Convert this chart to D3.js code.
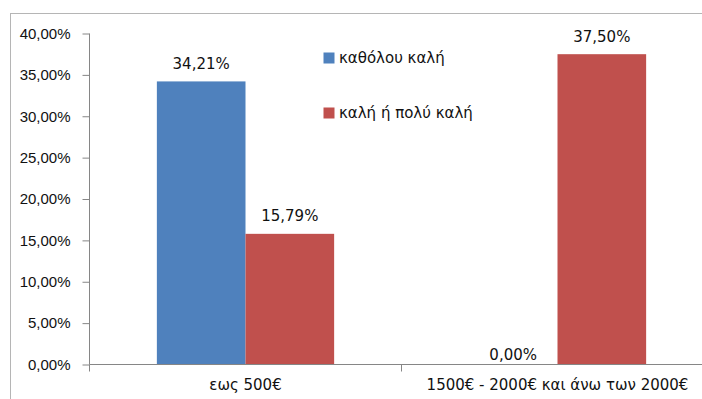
<!DOCTYPE html>
<html>
<head>
<meta charset="utf-8">
<script src="https://cdn.jsdelivr.net/npm/d3@7"></script>
<style>
  html, body { margin: 0; padding: 0; background: #fff; }
  svg { display: block; font-family: "DejaVu Sans", Verdana, sans-serif; }
</style>
</head>
<body>
<svg id="chart" width="702" height="399"></svg>
<script>
// Income groups on the x axis
const categories = ["εως 500€", "1500€ - 2000€ και άνω των 2000€"];
// Two rating series (shares, 0–1)
const seriesNames = ["καθόλου καλή", "καλή ή πολύ καλή"];
const seriesColors = ["#4F81BD", "#C0504D"];
const valuesNotGood = [0.3421, 0.0000];
const valuesGood = [0.1579, 0.3750];
// Y axis ticks
const yTicks = [0, 0.05, 0.10, 0.15, 0.20, 0.25, 0.30, 0.35, 0.40];

const seriesValues = [valuesNotGood, valuesGood];
const rows = categories.map((c, i) => ({
  category: c,
  values: seriesNames.map((s, j) => ({ series: s, value: seriesValues[j][i], color: seriesColors[j] }))
}));

const locale = d3.formatLocale({ decimal: ",", thousands: ".", grouping: [3], currency: ["", "€"] });
const pct = locale.format(".2%");

const svg = d3.select("#chart");
const axisColor = "#868686";
const textColor = "#111";
const fontSize = 15;

// Outer chart frame
svg.append("rect")
  .attr("x", 10.5).attr("y", 13.5)
  .attr("width", 800).attr("height", 500)
  .attr("fill", "#fff").attr("stroke", "#b5b5b5").attr("stroke-width", 1);

const plotLeft = 89.5, plotRight = 713.5, plotTop = 33.5, plotBottom = 364.5;

const y = d3.scaleLinear().domain([0, 0.40]).range([plotBottom, plotTop]);
const x0 = d3.scaleBand().domain(categories).range([plotLeft, plotRight]).paddingInner(0).paddingOuter(0);
const x1 = d3.scaleBand().domain(seriesNames).range([0, x0.bandwidth()]).paddingInner(0).paddingOuter(0.76);

// Bars
const groups = svg.append("g").selectAll("g").data(rows).join("g")
  .attr("transform", d => `translate(${x0(d.category)},0)`);

groups.selectAll("rect").data(d => d.values).join("rect")
  .attr("x", d => x1(d.series))
  .attr("y", d => y(d.value))
  .attr("width", x1.bandwidth())
  .attr("height", d => y(0) - y(d.value))
  .attr("fill", d => d.color);

// Value labels above bars
groups.selectAll("text").data(d => d.values).join("text")
  .attr("x", d => x1(d.series) + x1.bandwidth() / 2)
  .attr("y", d => d.value > 0 ? y(d.value) - 12.5 : y(0) - 5)
  .attr("text-anchor", "middle")
  .attr("font-size", fontSize)
  .attr("fill", textColor)
  .text(d => pct(d.value));

// Y axis
const yAxis = d3.axisLeft(y).tickValues(yTicks).tickSize(7).tickPadding(12).tickFormat(pct);
const gy = svg.append("g").attr("transform", `translate(${plotLeft},0)`).call(yAxis);
gy.select(".domain").attr("stroke", axisColor).attr("d", `M0,${plotTop}V${plotBottom}`);
gy.selectAll(".tick line").attr("stroke", axisColor);
gy.selectAll(".tick text").attr("font-size", fontSize).attr("fill", textColor).attr("font-family", null);

// X axis: ticks at category boundaries
const gx = svg.append("g").attr("transform", `translate(0,${plotBottom})`);
gx.append("line").attr("x1", plotLeft).attr("x2", plotRight).attr("stroke", axisColor);
const boundaries = categories.map(c => x0(c)).concat([x0(categories[categories.length - 1]) + x0.bandwidth()]);
gx.selectAll("line.tick").data(boundaries).join("line")
  .attr("class", "tick")
  .attr("x1", d => d).attr("x2", d => d)
  .attr("y1", 0).attr("y2", 7)
  .attr("stroke", axisColor);
gx.selectAll("text").data(categories).join("text")
  .attr("x", d => x0(d) + x0.bandwidth() / 2)
  .attr("y", 25)
  .attr("text-anchor", "middle")
  .attr("font-size", fontSize)
  .attr("fill", textColor)
  .text(d => d);

// Legend
const legend = svg.append("g").attr("transform", "translate(323.5,52.5)");
const items = legend.selectAll("g").data(seriesNames).join("g")
  .attr("transform", (d, i) => `translate(0,${i * 55})`);
items.append("rect").attr("width", 11).attr("height", 11).attr("fill", (d, i) => seriesColors[i]);
items.append("text").attr("x", 15.5).attr("y", 10.5)
  .attr("font-size", fontSize).attr("fill", textColor).text(d => d);
</script>
</body>
</html>
